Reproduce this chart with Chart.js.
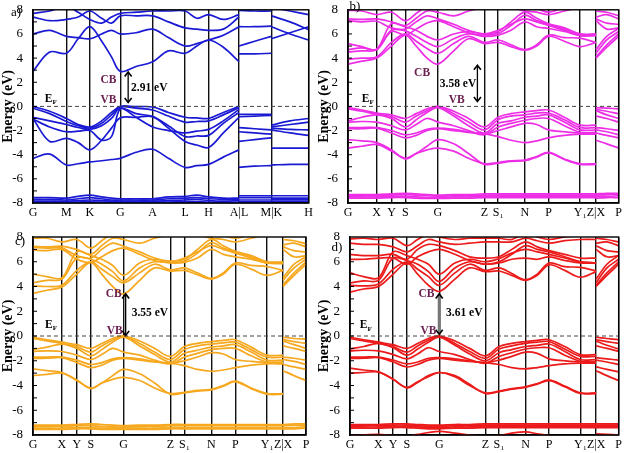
<!DOCTYPE html>
<html>
<head>
<meta charset="utf-8">
<script src="https://cdn.jsdelivr.net/npm/chart.js@4.4.0/dist/chart.umd.min.js"></script>
<style>
body { margin: 0; background: #fff; width: 625px; height: 453px; position: relative; overflow: hidden; }
.panel { position: absolute; }
</style>
</head>
<body>
<div class="panel" style="left:0;top:0"><canvas id="pa" width="316" height="226"></canvas></div>
<div class="panel" style="left:316px;top:0"><canvas id="pb" width="309" height="226"></canvas></div>
<div class="panel" style="left:0;top:226px"><canvas id="pc" width="316" height="227"></canvas></div>
<div class="panel" style="left:316px;top:226px"><canvas id="pd" width="309" height="227"></canvas></div>
<script>
const N = null;

// panel a : hexagonal path, k distance along the path
const kPathA = [0, 17, 34, 46, 58, 70, 80, 89, 105, 122, 138, 155, 167, 179, 194, 210, 210, 210, 226, 243, 243, 243, 262, 281];
const kTicksA = [0, 34, 58, 89, 122, 155, 179, 210, 243, 281];
const kLabelsA = ['G', 'M', 'K', 'G', 'A', 'L', 'H', 'A|L', 'M|K', 'H'];
const cbA = [
  [2.9, 4.5, 4.4, 5.6, 6.6, 5.4, 4.1, 2.9, 3.3, 3.7, 4.6, 4.4, 5.0, 5.5, 4.9, 3.7, N, 4.35, 4.35, 4.4, N, 6.6, 6.0, 5.5],
  [6.0, 6.3, 5.8, 5.7, 5.6, 6.0, 6.3, 6.0, 6.1, 6.4, 5.7, 5.0, 5.2, 5.5, 5.9, 6.6, N, 5.0, 5.4, 5.8, N, 5.6, 6.1, 6.6],
  [7.4, 7.1, 7.2, 7.4, 7.9, 7.3, 6.9, 7.5, 7.5, 7.5, 7.0, 6.5, 6.4, 6.3, 6.4, 7.4, N, 6.6, 6.6, 6.65, N, 7.5, 7.0, 6.35],
  [7.7, 7.9, 8.3, 7.8, 7.2, 6.9, 7.4, 7.7, 7.8, 7.9, 7.9, 7.9, 7.3, 7.6, 7.2, 7.6, N, 7.95, 7.9, 7.9, N, 8.2, 7.9, 7.6]
];
const vbA = [
  [0, -0.4, -1.0, -1.5, -1.7, -1.2, -0.5, 0, -0.02, -0.05, -0.5, -0.9, -0.95, -1.0, -0.5, 0, N, -0.65, -0.65, -0.65, N, -1.55, -1.2, -1.0],
  [-0.15, -0.6, -1.25, -1.6, -1.8, -1.4, -0.7, -0.05, -0.15, -0.3, -0.8, -1.3, -1.25, -1.2, -0.7, -0.1, N, -0.85, -0.8, -0.75, N, -1.7, -1.5, -1.3],
  [-0.9, -1.2, -1.5, -1.75, -1.9, -1.6, -1.0, -0.15, -0.9, -1.7, -2.0, -2.2, -2.05, -1.9, -1.2, -0.25, N, -1.75, -1.85, -1.95, N, -1.8, -1.9, -1.95],
  [-1.05, -1.7, -2.1, -2.05, -2.0, -2.8, -2.5, -0.2, -0.6, -0.85, -1.6, -2.5, -2.45, -2.4, -1.4, -0.5, N, -2.1, -2.2, -2.3, N, -1.95, -2.2, -2.4],
  [-1.0, -2.9, -2.65, -3.0, -3.6, -2.8, -1.8, -0.95, -0.9, -0.85, -1.8, -2.9, -3.2, -3.4, -2.2, -0.9, N, -2.9, -2.75, -2.6, N, -3.45, -3.45, -3.45],
  [-4.3, -3.95, -4.85, -4.75, -4.6, -4.5, -4.4, -4.3, -3.8, -3.55, -4.3, -5.05, -4.9, -4.8, -4.2, -3.6, N, -5.05, -4.95, -4.9, N, -4.85, -4.8, -4.8]
];
const coreA = [
  [-7.55, -7.55, -7.6, -7.45, -7.35, -7.5, -7.6, -7.65, -7.65, -7.65, -7.5, -7.45, -7.35, -7.5, -7.6, -7.6, N, -7.4, -7.4, -7.4, N, -7.4, -7.4, -7.4],
  [-7.7, -7.7, -7.75, -7.65, -7.55, -7.65, -7.75, -7.75, -7.75, -7.75, -7.65, -7.6, -7.55, -7.65, -7.7, -7.7, N, -7.55, -7.55, -7.55, N, -7.6, -7.6, -7.6],
  [-7.85, -7.85, -7.85, -7.8, -7.75, -7.8, -7.85, -7.85, -7.85, -7.85, -7.8, -7.75, -7.7, -7.8, -7.85, -7.8, N, -7.75, -7.75, -7.75, N, -7.7, -7.7, -7.7],
  [-7.95, -7.95, -7.95, -7.92, -7.9, -7.92, -7.95, -7.95, -7.95, -7.95, -7.92, -7.9, -7.88, -7.92, -7.95, -7.95, N, -7.9, -7.9, -7.9, N, -7.85, -7.85, -7.85]
];

// panels b, c, d : same path
const kPathB = [0, 14, 29, 44, 58, 69, 80, 91, 107, 122, 138, 152, 165, 179, 191, 203, 219, 235, 251, 251, 251, 262, 274];
const kTicksB = [0, 29, 44, 58, 91, 138, 152, 179, 203, 235, 251, 274];
const kLabelsB = ['G', 'X', 'Y', 'S', 'G', 'Z', 'S\u2081', 'N', 'P', 'Y\u2081', 'Z|X', 'P'];

const cbB = [
  [3.5, 3.75, 4.0, 5.0, 5.9, 5.0, 4.0, 3.5, 4.6, 5.6, 5.2, 5.3, 4.95, 4.65, 5.0, 5.8, 5.4, 4.95, 5.3, N, 4.0, 4.9, 5.8],
  [3.9, 4.0, 4.1, 5.3, 6.0, 5.4, 4.8, 4.4, 5.2, 5.8, 5.3, 5.5, 5.1, 4.7, 5.1, 5.9, 5.7, 5.65, 5.3, N, 4.1, 5.1, 6.0],
  [4.5, 4.6, 4.7, 6.3, 6.25, 5.8, 5.3, 4.95, 5.6, 6.0, 5.8, 5.9, 6.3, 7.0, 6.6, 6.45, 6.2, 5.9, 5.9, N, 4.4, 5.5, 6.2],
  [4.7, 4.85, 4.75, 6.85, 6.6, 6.3, 5.8, 5.5, 6.0, 6.2, 6.0, 6.3, 6.8, 7.25, 7.0, 6.7, 6.3, 5.9, 5.85, N, 4.7, 5.8, 6.45],
  [5.2, 4.95, 4.7, 6.2, 5.9, 6.4, 6.9, 7.1, 6.6, 6.1, 5.9, 6.05, 6.7, 7.55, 7.1, 6.8, 6.4, 5.85, 5.9, N, 7.1, 6.4, 6.5],
  [7.1, 7.0, 7.05, 6.5, 6.4, 7.0, 7.5, 7.25, 6.8, 6.3, 6.0, 6.2, 7.0, 7.8, 7.3, 6.85, 6.5, 6.0, 6.0, N, 7.25, 6.9, 6.8],
  [7.25, 7.2, 7.25, 7.0, 6.7, 7.3, 7.9, 7.8, 7.5, 7.9, 8.2, 8.3, 8.2, 7.9, 7.8, 7.6, 7.9, 8.2, 8.2, N, 7.4, 7.6, 7.25],
  [7.95, 7.9, 7.6, 7.8, 7.1, 7.7, 8.3, 8.5, 8.3, 8.4, 8.6, 8.6, 8.4, 8.2, 8.1, 7.8, 8.2, 8.5, 8.5, N, 7.9, 7.8, 7.5]
];
const vbB = [
  [-0.1, -0.3, -0.55, -0.7, -1.0, -0.6, -0.2, 0, -0.4, -1.0, -1.7, -0.9, -0.6, -0.45, -0.35, -0.3, -0.9, -1.55, -1.55, N, -0.1, -0.15, -0.2],
  [-0.2, -0.4, -0.65, -0.85, -1.3, -0.8, -0.35, -0.05, -0.6, -1.3, -1.95, -1.1, -0.8, -0.7, -0.55, -0.55, -1.1, -1.75, -1.75, N, -0.25, -0.4, -0.6],
  [-1.2, -0.9, -0.7, -1.0, -1.7, -1.1, -0.5, -0.1, -0.8, -1.6, -2.2, -1.4, -1.2, -0.9, -0.8, -0.7, -1.3, -1.95, -1.95, N, -0.35, -0.7, -1.0],
  [-1.3, -1.25, -1.3, -1.6, -1.95, -1.5, -1.0, -1.3, -1.6, -2.0, -2.35, -1.7, -1.4, -1.15, -1.0, -1.0, -1.6, -2.15, -2.15, N, -0.8, -1.0, -1.3],
  [-1.75, -1.75, -1.75, -2.0, -2.35, -2.2, -1.9, -1.8, -1.9, -2.1, -2.3, -2.0, -1.7, -1.4, -1.5, -1.95, -2.1, -2.2, -2.2, N, -1.75, -1.85, -2.0],
  [-1.85, -1.85, -1.8, -2.2, -2.6, -2.4, -2.0, -1.85, -2.0, -2.15, -2.25, -2.5, -2.8, -3.0, -2.85, -2.6, -2.4, -2.3, -2.3, N, -1.95, -2.1, -2.35],
  [-2.75, -2.85, -3.0, -3.6, -4.35, -3.9, -3.3, -2.75, -3.1, -3.9, -4.8, -4.7, -4.55, -4.5, -4.2, -3.85, -4.4, -4.8, -4.8, N, -2.2, -2.4, -2.6],
  [-3.45, -3.3, -3.15, -3.7, -4.3, -3.9, -3.6, -3.45, -3.7, -4.3, -4.75, -4.65, -4.5, -4.45, -4.15, -3.8, -4.35, -4.75, -4.75, N, -2.8, -3.1, -3.45]
];
const coreB = [
  [-7.3, -7.3, -7.3, -7.25, -7.2, -7.25, -7.3, -7.35, -7.3, -7.3, -7.25, -7.25, -7.25, -7.25, -7.25, -7.25, -7.25, -7.25, -7.25, N, -7.25, -7.2, -7.2],
  [-7.4, -7.4, -7.4, -7.35, -7.3, -7.35, -7.4, -7.45, -7.4, -7.4, -7.35, -7.35, -7.35, -7.35, -7.35, -7.35, -7.35, -7.35, -7.35, N, -7.35, -7.3, -7.3],
  [-7.5, -7.5, -7.5, -7.45, -7.45, -7.5, -7.55, -7.55, -7.5, -7.5, -7.45, -7.45, -7.45, -7.45, -7.45, -7.45, -7.45, -7.45, -7.45, N, -7.45, -7.45, -7.4],
  [-7.6, -7.6, -7.6, -7.55, -7.55, -7.6, -7.62, -7.62, -7.6, -7.6, -7.55, -7.55, -7.55, -7.55, -7.55, -7.55, -7.55, -7.55, -7.55, N, -7.6, -7.55, -7.55]
];

const cbC = [
  [3.45, 3.7, 3.95, 5.0, 5.95, 5.0, 4.0, 3.4, 4.5, 5.5, 5.25, 5.3, 4.95, 4.6, 5.0, 5.8, 5.4, 4.9, 5.3, N, 4.0, 4.9, 5.8],
  [4.05, 4.0, 4.1, 5.3, 6.0, 5.4, 4.8, 4.3, 5.1, 5.8, 5.35, 5.5, 5.1, 4.65, 5.1, 5.9, 5.7, 5.6, 5.3, N, 4.15, 5.1, 6.0],
  [4.3, 4.5, 4.6, 6.3, 6.2, 5.8, 5.2, 4.45, 5.5, 6.0, 5.9, 5.95, 6.3, 7.0, 6.6, 6.4, 6.2, 5.9, 5.9, N, 4.5, 5.5, 6.2],
  [5.0, 4.8, 4.7, 6.8, 6.5, 6.2, 5.7, 4.9, 5.9, 6.2, 6.0, 6.3, 6.8, 7.3, 7.0, 6.7, 6.3, 5.9, 5.85, N, 4.7, 5.8, 6.4],
  [6.95, 6.9, 7.0, 6.2, 5.95, 6.4, 6.9, 7.1, 6.6, 6.1, 5.95, 6.05, 6.7, 7.55, 7.1, 6.8, 6.4, 5.9, 5.95, N, 7.0, 6.4, 6.5],
  [7.15, 7.1, 7.1, 6.5, 6.3, 7.0, 7.5, 7.25, 6.8, 6.3, 6.05, 6.2, 7.0, 7.8, 7.3, 6.85, 6.5, 6.0, 6.0, N, 7.2, 6.9, 6.8],
  [7.25, 7.2, 7.25, 7.0, 6.6, 7.3, 7.9, 7.8, 7.5, 7.9, 8.2, 8.3, 8.2, 7.9, 7.8, 7.6, 7.9, 8.2, 8.2, N, 7.35, 7.5, 7.2],
  [7.9, 7.9, 7.6, 7.8, 7.1, 7.7, 8.3, 8.5, 8.3, 8.4, 8.6, 8.6, 8.4, 8.1, 8.1, 7.9, 8.2, 8.5, 8.5, N, 7.8, 7.7, 7.45]
];
const vbC = [
  [-0.1, -0.3, -0.5, -0.7, -1.0, -0.6, -0.2, 0, -0.4, -1.0, -1.65, -0.85, -0.6, -0.45, -0.35, -0.3, -0.9, -1.55, -1.55, N, -0.1, -0.2, -0.25],
  [-0.2, -0.4, -0.6, -0.85, -1.3, -0.8, -0.35, -0.05, -0.6, -1.3, -1.9, -1.1, -0.8, -0.65, -0.55, -0.5, -1.1, -1.7, -1.7, N, -0.3, -0.45, -0.6],
  [-1.1, -0.9, -0.65, -1.0, -1.6, -1.1, -0.5, -0.1, -0.8, -1.5, -2.1, -1.4, -1.15, -0.9, -0.8, -0.7, -1.3, -1.95, -1.95, N, -0.4, -0.7, -1.0],
  [-1.25, -1.2, -1.25, -1.55, -1.9, -1.5, -1.0, -1.3, -1.55, -1.95, -2.25, -1.7, -1.4, -1.1, -1.0, -1.0, -1.6, -2.1, -2.1, N, -0.8, -1.0, -1.25],
  [-1.7, -1.7, -1.7, -1.95, -2.3, -2.15, -1.85, -1.75, -1.85, -2.05, -2.2, -2.0, -1.7, -1.35, -1.45, -1.9, -2.05, -2.15, -2.15, N, -1.7, -1.8, -1.95],
  [-1.8, -1.8, -1.75, -2.15, -2.55, -2.35, -1.95, -1.8, -1.95, -2.1, -2.2, -2.4, -2.7, -2.85, -2.75, -2.55, -2.35, -2.25, -2.25, N, -1.9, -2.05, -2.3],
  [-2.65, -2.8, -2.95, -3.55, -4.25, -3.8, -3.2, -2.7, -3.05, -3.8, -4.7, -4.6, -4.45, -4.35, -4.05, -3.7, -4.25, -4.7, -4.7, N, -2.3, -2.5, -2.7],
  [-3.2, -3.1, -3.0, -3.6, -4.2, -3.8, -3.5, -3.35, -3.6, -4.2, -4.65, -4.55, -4.4, -4.3, -4.0, -3.65, -4.2, -4.65, -4.65, N, -2.8, -3.2, -3.6]
];
const coreC = [
  [-7.2, -7.2, -7.2, -7.15, -7.1, -7.15, -7.2, -7.25, -7.2, -7.2, -7.15, -7.15, -7.15, -7.15, -7.15, -7.15, -7.15, -7.15, -7.15, N, -7.15, -7.1, -7.1],
  [-7.3, -7.3, -7.3, -7.25, -7.25, -7.3, -7.35, -7.35, -7.3, -7.3, -7.25, -7.25, -7.25, -7.25, -7.25, -7.25, -7.25, -7.25, -7.25, N, -7.25, -7.2, -7.2],
  [-7.45, -7.45, -7.45, -7.4, -7.4, -7.45, -7.45, -7.45, -7.45, -7.45, -7.4, -7.4, -7.4, -7.4, -7.4, -7.4, -7.4, -7.4, -7.4, N, -7.4, -7.4, -7.35],
  [-7.55, -7.55, -7.55, -7.5, -7.5, -7.55, -7.55, -7.55, -7.55, -7.55, -7.5, -7.5, -7.5, -7.5, -7.5, -7.5, -7.5, -7.5, -7.5, N, -7.5, -7.5, -7.45]
];

const cbD = [
  [3.55, 3.8, 4.0, 5.0, 5.9, 5.0, 4.1, 3.6, 4.6, 5.5, 5.2, 5.25, 4.9, 4.5, 4.9, 5.75, 5.3, 4.75, 5.2, N, 4.0, 4.9, 5.8],
  [4.1, 4.05, 4.2, 5.4, 6.0, 5.4, 4.8, 4.1, 5.1, 5.8, 5.3, 5.5, 5.05, 4.55, 5.0, 5.9, 5.6, 5.55, 5.25, N, 4.1, 5.1, 6.0],
  [4.3, 4.45, 4.5, 6.3, 6.1, 5.8, 5.2, 4.4, 5.5, 6.0, 5.8, 5.9, 6.2, 6.3, 6.2, 6.4, 6.1, 5.9, 5.9, N, 4.3, 5.5, 6.2],
  [5.1, 4.8, 4.7, 6.8, 6.5, 6.2, 5.8, 5.0, 5.9, 6.2, 6.0, 6.25, 6.7, 7.0, 6.8, 6.6, 6.3, 6.0, 5.9, N, 4.6, 5.8, 6.5],
  [6.2, 6.2, 6.3, 6.3, 5.8, 6.4, 6.8, 7.0, 6.6, 6.1, 5.8, 6.0, 6.6, 7.3, 7.0, 6.8, 6.4, 6.0, 5.9, N, 7.0, 6.4, 6.5],
  [6.6, 6.5, 6.5, 6.6, 6.2, 7.0, 7.4, 7.3, 6.9, 6.4, 6.3, 6.4, 7.0, 7.6, 7.2, 6.9, 6.6, 6.3, 6.3, N, 7.3, 6.9, 6.8],
  [7.5, 7.4, 7.4, 7.2, 6.8, 7.3, 7.8, 7.6, 7.4, 7.5, 7.6, 7.6, 7.6, 7.9, 7.7, 7.5, 7.7, 7.8, 7.8, N, 7.5, 7.6, 7.3],
  [7.85, 7.9, 7.8, 7.9, 7.3, 7.8, 8.2, 8.0, 7.8, 7.9, 7.9, 7.9, 7.8, 8.3, 8.0, 7.8, 8.0, 8.1, 8.1, N, 7.9, 7.8, 7.6]
];
const vbD = [
  [-0.1, -0.3, -0.5, -0.7, -1.0, -0.6, -0.2, 0, -0.4, -1.0, -1.6, -0.85, -0.6, -0.45, -0.35, -0.3, -0.85, -1.5, -1.5, N, -0.1, -0.2, -0.3],
  [-0.2, -0.4, -0.6, -0.85, -1.3, -0.8, -0.35, -0.05, -0.6, -1.25, -1.8, -1.05, -0.8, -0.6, -0.5, -0.45, -1.05, -1.65, -1.65, N, -0.3, -0.45, -0.6],
  [-1.05, -0.85, -0.6, -0.95, -1.55, -1.05, -0.5, -0.1, -0.75, -1.45, -2.0, -1.35, -1.1, -0.85, -0.75, -0.65, -1.25, -1.9, -1.9, N, -0.4, -0.75, -1.05],
  [-1.2, -1.15, -1.2, -1.5, -1.85, -1.45, -0.95, -1.25, -1.5, -1.9, -2.2, -1.65, -1.35, -1.05, -0.95, -0.95, -1.55, -2.05, -2.05, N, -0.8, -1.0, -1.25],
  [-1.7, -1.7, -1.7, -1.95, -2.25, -2.1, -1.8, -1.75, -1.85, -2.0, -2.15, -1.95, -1.65, -1.3, -1.4, -1.85, -2.0, -2.1, -2.1, N, -1.75, -1.85, -1.95],
  [-1.8, -1.8, -1.75, -2.1, -2.5, -2.3, -1.95, -1.8, -1.95, -2.05, -2.15, -2.3, -2.55, -2.65, -2.55, -2.4, -2.25, -2.2, -2.2, N, -1.95, -2.1, -2.3],
  [-2.6, -2.75, -2.9, -3.5, -4.2, -3.75, -3.2, -2.95, -3.2, -3.9, -4.65, -4.5, -4.3, -4.15, -3.9, -3.6, -4.1, -4.65, -4.65, N, -2.5, -2.7, -2.9],
  [-3.0, -2.95, -2.9, -3.5, -4.15, -3.7, -3.3, -2.95, -3.3, -4.0, -4.6, -4.45, -4.25, -4.1, -3.85, -3.55, -4.05, -4.6, -4.6, N, -2.8, -3.2, -3.6]
];
const coreD = [
  [-7.15, -7.15, -7.15, -7.1, -7.1, -7.15, -7.2, -7.2, -7.15, -7.15, -7.1, -7.1, -7.1, -7.1, -7.1, -7.1, -7.1, -7.1, -7.1, N, -7.1, -7.1, -7.1],
  [-7.25, -7.25, -7.25, -7.2, -7.2, -7.25, -7.3, -7.3, -7.25, -7.25, -7.2, -7.2, -7.2, -7.2, -7.2, -7.2, -7.2, -7.2, -7.2, N, -7.2, -7.2, -7.2],
  [-7.35, -7.35, -7.35, -7.3, -7.3, -7.35, -7.4, -7.4, -7.35, -7.35, -7.3, -7.3, -7.3, -7.3, -7.3, -7.3, -7.3, -7.3, -7.3, N, -7.3, -7.3, -7.3],
  [-7.45, -7.45, -7.45, -7.4, -7.4, -7.45, -7.5, -7.5, -7.45, -7.45, -7.4, -7.4, -7.4, -7.4, -7.4, -7.4, -7.4, -7.4, -7.4, N, -7.4, -7.4, -7.4],
  [-8.05, -8.0, -7.95, -8.05, -8.1, -7.95, -7.8, -7.7, -7.85, -8.0, -8.1, -8.05, -7.85, -7.75, -7.9, -8.05, -8.1, -8.1, -8.1, N, -7.9, -7.95, -8.0]
];

const SERIF = '"Liberation Serif", "DejaVu Serif", serif';
const PURPLE = '#6b2150';

function arrow(ctx, x, yTop, yBot, color, w) {
  ctx.strokeStyle = color;
  ctx.lineWidth = w;
  ctx.beginPath();
  ctx.moveTo(x, yTop + 1);
  ctx.lineTo(x, yBot - 1);
  ctx.stroke();
  ctx.strokeStyle = '#000';
  ctx.lineWidth = 1.6;
  ctx.beginPath();
  ctx.moveTo(x - 3.5, yTop + 4.5); ctx.lineTo(x, yTop); ctx.lineTo(x + 3.5, yTop + 4.5);
  ctx.moveTo(x - 3.5, yBot - 4.5); ctx.lineTo(x, yBot); ctx.lineTo(x + 3.5, yBot - 4.5);
  ctx.stroke();
}

const decor = {
  id: 'decor',
  afterDatasetsDraw(chart, args, opts) {
    const { ctx, chartArea: a, scales: { x, y } } = chart;
    ctx.save();
    // Fermi level
    const y0 = y.getPixelForValue(0);
    ctx.strokeStyle = '#444';
    ctx.lineWidth = 1;
    ctx.setLineDash([4, 3]);
    ctx.beginPath();
    ctx.moveTo(a.left, y0);
    ctx.lineTo(a.right, y0);
    ctx.stroke();
    ctx.setLineDash([]);
    // frame and small inner ticks
    ctx.strokeStyle = '#000';
    ctx.lineWidth = 1.4;
    ctx.strokeRect(a.left, a.top, a.right - a.left, a.bottom - a.top);
    ctx.lineWidth = 1;
    for (let e = -7; e <= 7; e++) {
      const py = y.getPixelForValue(e);
      ctx.beginPath();
      ctx.moveTo(a.left, py);
      ctx.lineTo(a.left + 4, py);
      ctx.stroke();
    }
    // gap arrow
    const ar = opts.arrow;
    arrow(ctx, x.getPixelForValue(ar.k), y.getPixelForValue(ar.top), y.getPixelForValue(ar.bot), ar.color, ar.width);
    // text notes
    ctx.textBaseline = 'middle';
    opts.notes.forEach(n => {
      const px = x.getPixelForValue(n.k);
      const py = y.getPixelForValue(n.e);
      ctx.fillStyle = n.color || '#000';
      ctx.font = 'bold 11.5px ' + SERIF;
      ctx.textAlign = n.align || 'center';
      ctx.fillText(n.text, px, py);
      if (n.sub) {
        const w = ctx.measureText(n.text).width;
        ctx.font = 'bold 7px ' + SERIF;
        ctx.textAlign = 'left';
        ctx.fillText(n.sub, px + w, py + 3.5);
      }
    });
    // panel tag
    ctx.fillStyle = '#000';
    ctx.font = '13px ' + SERIF;
    ctx.textAlign = 'center';
    ctx.fillText(opts.tag.text, opts.tag.x, opts.tag.y);
    ctx.restore();
  }
};

function bandSets(k, bands, color) {
  return bands.map(b => ({
    data: b.map((v, i) => ({ x: k[i], y: v })),
    borderColor: color,
    borderWidth: 1.7,
    pointRadius: 0,
    tension: 0.35,
    fill: false
  }));
}

function makePanel(id, p) {
  const sets = [].concat(
    bandSets(p.k, p.core, p.color),
    bandSets(p.k, p.vb, p.color),
    bandSets(p.k, p.cb, p.color)
  );
  new Chart(document.getElementById(id), {
    type: 'line',
    data: { datasets: sets },
    options: {
      responsive: false,
      animation: false,
      devicePixelRatio: 1,
      layout: { padding: p.pad },
      plugins: {
        legend: { display: false },
        tooltip: { enabled: false },
        decor: { arrow: p.arrow, notes: p.notes, tag: p.tag }
      },
      scales: {
        x: {
          type: 'linear',
          min: 0,
          max: p.k[p.k.length - 1],
          afterBuildTicks: s => { s.ticks = p.ticks.map(v => ({ value: v })); },
          afterFit: s => { s.height = p.xh; },
          ticks: {
            autoSkip: false,
            maxRotation: 0,
            padding: 3,
            color: '#000',
            font: { family: SERIF, size: 12 },
            callback: (v, i) => p.labels[i]
          },
          grid: { color: '#111', lineWidth: 1.4, drawTicks: false },
          border: { color: '#000', width: 1.4 }
        },
        y: {
          min: -8,
          max: 8,
          afterFit: s => { s.width = p.yw; },
          ticks: {
            stepSize: 2,
            padding: 2,
            color: '#000',
            font: { family: SERIF, size: 13 }
          },
          grid: { display: false },
          border: { color: '#000', width: 1.4 },
          title: {
            display: true,
            text: 'Energy (eV)',
            color: '#000',
            padding: 0,
            font: { family: SERIF, size: 14, weight: 'bold' }
          }
        }
      }
    },
    plugins: [decor]
  });
}

makePanel('pa', {
  k: kPathA, ticks: kTicksA, labels: kLabelsA, cb: cbA, vb: vbA, core: coreA,
  color: '#1a1ad4', yw: 33, xh: 20, pad: { left: 0, right: 2, top: 6, bottom: 3 },
  arrow: { k: 97, top: 2.85, bot: 0.33, color: '#000', width: 1.3 },
  notes: [
    { k: 12, e: 0.65, text: 'E', sub: 'F', align: 'left' },
    { k: 77, e: 2.2, text: 'CB', color: PURPLE },
    { k: 77, e: 0.5, text: 'VB', color: PURPLE },
    { k: 100, e: 1.55, text: '2.91 eV', align: 'left' }
  ],
  tag: { text: 'a)', x: 16, y: 13 }
});

makePanel('pb', {
  k: kPathB, ticks: kTicksB, labels: kLabelsB, cb: cbB, vb: vbB, core: coreB,
  color: '#ee2ee6', yw: 32, xh: 20, pad: { left: 0, right: 3, top: 6, bottom: 3 },
  arrow: { k: 131, top: 3.4, bot: 0.4, color: '#000', width: 1.3 },
  notes: [
    { k: 14, e: 0.65, text: 'E', sub: 'F', align: 'left' },
    { k: 75, e: 2.75, text: 'CB', color: PURPLE },
    { k: 110, e: 0.55, text: 'VB', color: PURPLE },
    { k: 93, e: 1.85, text: '3.58 eV', align: 'left' }
  ],
  tag: { text: 'b)', x: 39, y: 7 }
});

makePanel('pc', {
  k: kPathB, ticks: kTicksB, labels: kLabelsB, cb: cbC, vb: vbC, core: coreC,
  color: '#f6a81e', yw: 33, xh: 16, pad: { left: 0, right: 10, top: 11, bottom: 2 },
  arrow: { k: 93, top: 3.4, bot: 0.05, color: '#000', width: 1.3 },
  notes: [
    { k: 12, e: 0.9, text: 'E', sub: 'F', align: 'left' },
    { k: 81, e: 3.4, text: 'CB', color: PURPLE },
    { k: 82, e: 0.4, text: 'VB', color: PURPLE },
    { k: 99, e: 1.85, text: '3.55 eV', align: 'left' }
  ],
  tag: { text: 'c)', x: 20, y: 16 }
});

makePanel('pd', {
  k: kPathB, ticks: kTicksB, labels: kLabelsB, cb: cbD, vb: vbD, core: coreD,
  color: '#ec1a1a', yw: 34, xh: 16, pad: { left: 0, right: 4, top: 11, bottom: 2 },
  arrow: { k: 91, top: 3.4, bot: 0.15, color: '#777', width: 3 },
  notes: [
    { k: 10, e: 0.85, text: 'E', sub: 'F', align: 'left' },
    { k: 78, e: 3.4, text: 'CB', color: PURPLE },
    { k: 80, e: 0.4, text: 'VB', color: PURPLE },
    { k: 98, e: 1.85, text: '3.61 eV', align: 'left' }
  ],
  tag: { text: 'd)', x: 21, y: 22 }
});
</script>
</body>
</html>
